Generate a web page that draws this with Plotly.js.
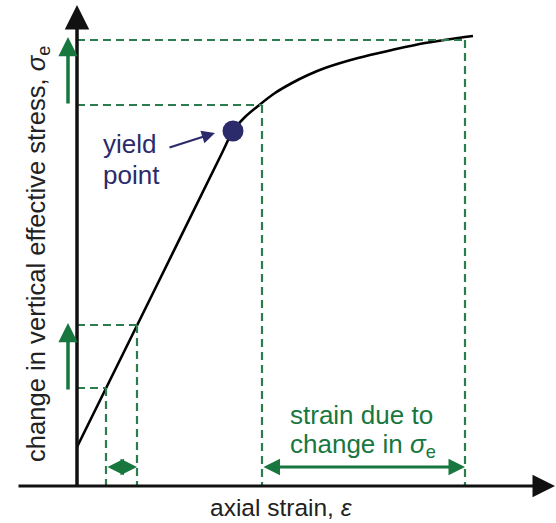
<!DOCTYPE html>
<html>
<head>
<meta charset="utf-8">
<script src="https://cdn.plot.ly/plotly-3.0.1.min.js"></script>
<style>html,body{margin:0;padding:0;background:#fff;}#chart{width:556px;height:523px;}</style>
</head>
<body>
<div id="chart"></div>
<script>
// Stress–strain curve (arbitrary units, origin at axis crossing)
const strain = [0, 78, 145, 156, 168, 181, 198, 215, 231, 248, 281, 315, 348, 381, 396];
const stress = [39, 197, 333, 355, 369, 380, 393, 403, 411, 418, 428, 436, 443, 448, 450];

// yield point
const yieldStrain = [156];
const yieldStress = [355];

// guide points: [low elastic, high elastic, plastic start, plastic end]
const guideStrain = [29, 60, 185, 388];
const guideStress = [98, 161, 381, 446];

// labels
const xTitle = 'axial strain, <i>ε</i>';
const yTitle = 'change in vertical effective stress, <i>σ</i><sub>e</sub>';
const yieldLines = ['yield', 'point'];
const strainLines = ['strain due to', 'change in <i>σ</i><sub>e</sub>'];

const green = '#17773f';
const dashGreen = '#2b7d50';
const navy = '#2b2a6b';
const FONT = 'Liberation Sans, Arial, sans-serif';

const shapes = [];
guideStrain.forEach((gx, i) => {
  const gy = guideStress[i];
  shapes.push({type:'line', xref:'x', yref:'y', x0:0, x1:gx, y0:gy, y1:gy,
    line:{color:dashGreen, width:2.2, dash:'8px,5px'}});
  shapes.push({type:'line', xref:'x', yref:'y', x0:gx, x1:gx, y0:gy, y1:0,
    line:{color:dashGreen, width:2.2, dash:'8px,5px'}});
});

function arrow(x0, y0, x1, y1, color, width, size, both) {
  const a = {x:x1, y:y1, ax:x0, ay:y0, xref:'x', yref:'y', axref:'x', ayref:'y',
    text:'', showarrow:true, arrowhead:2, arrowsize:size, arrowwidth:width,
    arrowcolor:color, standoff:0, startstandoff:0};
  if (both) { a.arrowside = 'end+start'; a.startarrowhead = 2; a.startarrowsize = size; }
  return a;
}

function label(x, y, text, color, size, anchor, angle, yanchor) {
  return {x:x, y:y, xref:'x', yref:'y', text:text, showarrow:false,
    xanchor:anchor || 'center', yanchor:yanchor || 'middle', textangle:angle || 0,
    borderpad:0, font:{family:FONT, size:size, color:color}};
}

const annotations = [
  // axes
  arrow(0, -1, 0, 481, '#111', 3.5, 1.4, false),
  arrow(-60, 0, 478, 0, '#111', 3, 1.5, false),
  // green vertical arrows
  arrow(-9, guideStress[0] - 3, -9, guideStress[1] + 2, green, 3.5, 1.1, false),
  arrow(-9, guideStress[2], -9, guideStress[3] + 3, green, 3.5, 1.1, false),
  // green horizontal double arrows
  arrow(guideStrain[0], 19, guideStrain[1], 19, green, 3, 1.1, true),
  arrow(guideStrain[2], 19, guideStrain[3], 19, green, 3, 1.1, true),
  // yield pointer
  arrow(91, 338, 138, 353, navy, 2.2, 1.2, false),
  // texts
  label(25, 342, yieldLines[0], navy, 26, 'left'),
  label(25, 311, yieldLines[1], navy, 26, 'left'),
  label(212, 71, strainLines[0], green, 26, 'left'),
  label(212, 41, strainLines[1], green, 26, 'left'),
  label(204, -36, xTitle, '#222', 24.5, 'center', 0, 'bottom'),
  label(-39, 232, yTitle, '#222', 25.6, 'center', -90)
];

const traces = [
  {x:strain, y:stress, mode:'lines', line:{color:'#000', width:2.6, shape:'spline', smoothing:1},
    hoverinfo:'skip', showlegend:false},
  {x:yieldStrain, y:yieldStress, mode:'markers', marker:{color:navy, size:21},
    hoverinfo:'skip', showlegend:false}
];

const layout = {
  width:556, height:523,
  margin:{l:0, r:0, t:0, b:0},
  paper_bgcolor:'#fff', plot_bgcolor:'#fff',
  xaxis:{range:[-77, 479], visible:false, fixedrange:true},
  yaxis:{range:[-37, 486], visible:false, fixedrange:true},
  shapes:shapes,
  annotations:annotations,
  showlegend:false
};

Plotly.newPlot('chart', traces, layout, {staticPlot:true});
</script>
</body>
</html>
